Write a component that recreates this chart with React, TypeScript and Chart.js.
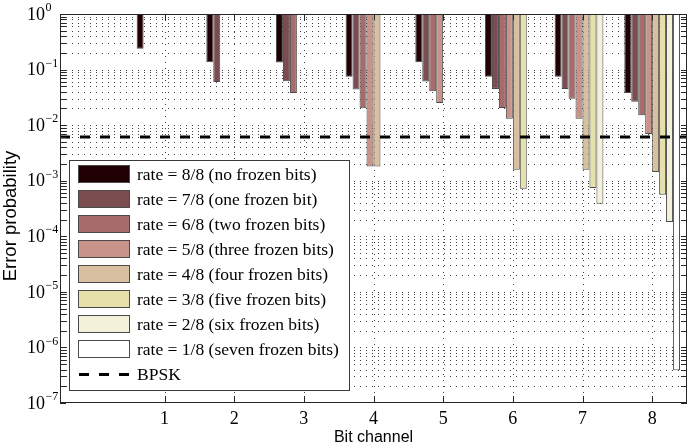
import { useEffect, useRef } from 'react';
import { Chart, registerables } from 'chart.js';

Chart.register(...registerables);

// ---- data ----
const channels = ['1', '2', '3', '4', '5', '6', '7', '8'];

const rate8of8 = [0.236, 0.135, 0.134, 0.074, 0.135, 0.074, 0.074, 0.038];
const rate7of8 = [null, 0.06, 0.0615, 0.0436, 0.0607, 0.0449, 0.0449, 0.0263];
const rate6of8 = [null, null, 0.038, 0.0201, 0.0407, 0.0204, 0.0297, 0.015];
const rate5of8 = [null, null, null, 0.00181, 0.025, 0.0131, 0.0131, 0.00694];
const rate4of8 = [null, null, null, 0.00181, null, 0.00158, 0.00158, 0.00143];
const rate3of8 = [null, null, null, null, null, 0.000718, 0.00074, 0.00056];
const rate2of8 = [null, null, null, null, null, null, 0.000385, 0.00018];
const rate1of8 = [null, null, null, null, null, null, null, 3.9e-7];

const bpskError = [0.0061];

const seriesLabels = [
  'rate = 8/8 (no frozen bits)',
  'rate = 7/8 (one frozen bit)',
  'rate = 6/8 (two frozen bits)',
  'rate = 5/8 (three frozen bits)',
  'rate = 4/8 (four frozen bits)',
  'rate = 3/8 (five frozen bits)',
  'rate = 2/8 (six frozen bits)',
  'rate = 1/8 (seven frozen bits)',
];
const bpskLabel = 'BPSK';
const seriesColors = ['#200005', '#7a4e50', '#a86b6b', '#c8948a', '#d8bf9f', '#e6e1aa', '#f3f1da', '#ffffff'];

const yExponents = [0, -1, -2, -3, -4, -5, -6, -7];
const yTitle = 'Error probability';
const xTitle = 'Bit channel';

const allSeries = [rate8of8, rate7of8, rate6of8, rate5of8, rate4of8, rate3of8, rate2of8, rate1of8];

const AXIS = '#262626';
const SERIF = '"Liberation Serif", "Times New Roman", serif';
const SANS = '"Liberation Sans", Arial, sans-serif';

const decor = {
  id: 'decor',
  beforeDatasetsDraw(chart: any) {
    const { ctx, chartArea: a, scales } = chart;
    const y = scales.y;
    const x = scales.x;
    ctx.save();
    ctx.strokeStyle = 'rgba(0,0,0,0.75)';
    ctx.lineWidth = 1;
    ctx.setLineDash([1, 5]);
    for (let e = -7; e <= 0; e++) {
      for (let m = 1; m <= 9; m++) {
        const v = m * Math.pow(10, e);
        if (v > 1) break;
        const py = Math.round(y.getPixelForValue(v)) + 0.5;
        if (py <= a.top + 1 || py >= a.bottom - 1) continue;
        ctx.beginPath();
        ctx.moveTo(a.left, py);
        ctx.lineTo(a.right, py);
        ctx.stroke();
      }
    }
    channels.forEach((_, i) => {
      const px = Math.round(x.getPixelForValue(i + 1)) + 0.5;
      ctx.beginPath();
      ctx.moveTo(px, a.top);
      ctx.lineTo(px, a.bottom);
      ctx.stroke();
    });
    ctx.restore();
  },
  afterDatasetsDraw(chart: any) {
    const { ctx, chartArea: a, scales } = chart;
    const y = scales.y;
    const x = scales.x;
    ctx.save();
    ctx.setLineDash([]);

    // legend
    const lx = 69, ly = 160, lw = 280, lh = 230;
    ctx.fillStyle = '#ffffff';
    ctx.fillRect(lx, ly, lw, lh);
    ctx.strokeStyle = '#3a3a3a';
    ctx.lineWidth = 1;
    ctx.strokeRect(lx + 0.5, ly + 0.5, lw, lh);
    ctx.font = `17.5px ${SERIF}`;
    ctx.textBaseline = 'middle';
    ctx.textAlign = 'left';
    seriesLabels.forEach((lab, i) => {
      const sy = 165 + 25 * i;
      ctx.fillStyle = seriesColors[i];
      ctx.fillRect(78, sy, 52, 18);
      ctx.strokeStyle = '#4a4a4a';
      ctx.strokeRect(78.5, sy + 0.5, 51, 17);
      ctx.fillStyle = '#000';
      ctx.fillText(lab, 137, sy + 10);
    });
    const by = 165 + 25 * 8 + 9.5;
    ctx.strokeStyle = '#000';
    ctx.lineWidth = 3;
    ctx.setLineDash([10, 10]);
    ctx.beginPath();
    ctx.moveTo(79, by);
    ctx.lineTo(130, by);
    ctx.stroke();
    ctx.setLineDash([]);
    ctx.fillStyle = '#000';
    ctx.fillText(bpskLabel, 137, by + 1);

    // axes box
    ctx.lineWidth = 1;
    ctx.strokeStyle = AXIS;
    ctx.strokeRect(a.left + 0.5, a.top + 0.5, a.right - a.left - 1, a.bottom - a.top - 1);

    // y ticks (inside, both sides)
    for (let e = -7; e <= 0; e++) {
      for (let m = 1; m <= 9; m++) {
        const v = m * Math.pow(10, e);
        if (v > 1) break;
        const py = Math.round(y.getPixelForValue(v)) + 0.5;
        const len = 6;
        ctx.beginPath();
        ctx.moveTo(a.left, py);
        ctx.lineTo(a.left + len, py);
        ctx.moveTo(a.right, py);
        ctx.lineTo(a.right - len, py);
        ctx.stroke();
      }
    }
    // x ticks
    channels.forEach((_, i) => {
      const px = Math.round(x.getPixelForValue(i + 1)) + 0.5;
      ctx.beginPath();
      ctx.moveTo(px, a.bottom);
      ctx.lineTo(px, a.bottom - 7);
      ctx.moveTo(px, a.top);
      ctx.lineTo(px, a.top + 6);
      ctx.stroke();
    });

    // y tick labels 10^e
    ctx.fillStyle = '#000';
    yExponents.forEach((e) => {
      const py = y.getPixelForValue(Math.pow(10, e));
      ctx.textAlign = 'left';
      ctx.textBaseline = 'middle';
      ctx.font = `18px ${SERIF}`;
      ctx.fillText('10', 27, py + 1);
      ctx.font = `12px ${SERIF}`;
      const exp = e === 0 ? '0' : '\u2212' + String(-e);
      ctx.fillText(exp, 45.5, py - 6);
    });

    // x tick labels
    ctx.font = `18px ${SERIF}`;
    ctx.textAlign = 'center';
    ctx.textBaseline = 'alphabetic';
    channels.forEach((lab, i) => {
      const px = x.getPixelForValue(i + 1);
      ctx.fillText(lab, px, 423.5);
    });

    // titles
    ctx.font = `16px ${SANS}`;
    ctx.fillText(xTitle, (a.left + a.right) / 2, 442);
    ctx.save();
    ctx.translate(16, 216);
    ctx.rotate(-Math.PI / 2);
    ctx.font = `18.5px ${SANS}`;
    ctx.textAlign = 'center';
    ctx.textBaseline = 'alphabetic';
    ctx.fillText(yTitle, 0, 0);
    ctx.restore();

    ctx.restore();
  },
};

export default function App() {
  const ref = useRef<HTMLCanvasElement | null>(null);
  useEffect(() => {
    if (!ref.current) return;
    const labels = ['', ...channels];
    const barSets = allSeries.map((s, i) => ({
      type: 'bar' as const,
      label: seriesLabels[i],
      data: [null, ...s].map((v) => (v == null ? null : [v, 1])),
      backgroundColor: seriesColors[i],
      borderColor: '#4a4a4a',
      borderWidth: 1,
      borderSkipped: false,
      categoryPercentage: 0.8,
      barPercentage: 1.0,
      order: 1,
    }));
    // BPSK reference line spans the whole category range (-0.5 .. n+0.5) on the category scale
    const lineSet = {
      type: 'line' as const,
      label: bpskLabel,
      parsing: false,
      data: [
        { x: -0.5, y: bpskError[0] },
        { x: labels.length - 0.5, y: bpskError[0] },
      ],
      borderColor: '#000',
      borderWidth: 3,
      borderDash: [10, 10],
      pointRadius: 0,
      fill: false,
      order: 0,
    };
    const chart = new Chart(ref.current, {
      type: 'bar',
      data: { labels, datasets: [...barSets, lineSet] as any },
      options: {
        animation: false,
        responsive: false,
        layout: { padding: { left: 60, right: 5, top: 14, bottom: 43 } },
        plugins: { legend: { display: false }, tooltip: { enabled: false } },
        scales: {
          x: { type: 'category', display: false, offset: true },
          y: { type: 'logarithmic', display: false, min: 1e-7, max: 1 },
        },
      } as any,
      plugins: [decor],
    });
    return () => chart.destroy();
  }, []);
  return (
    <div style={{ position: 'absolute', left: 0, top: 0, width: 692, height: 446, background: '#fff' }}>
      <canvas ref={ref} width={692} height={446} style={{ display: 'block' }} />
    </div>
  );
}
